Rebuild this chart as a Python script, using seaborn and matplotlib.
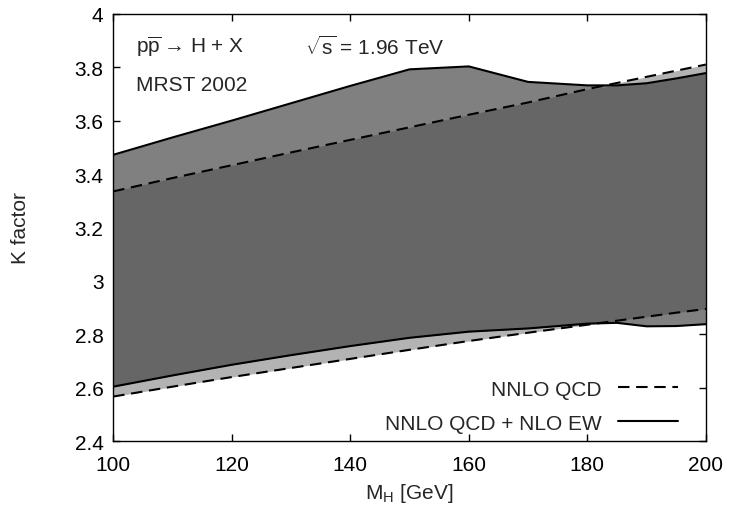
import numpy as np
import pandas as pd
import matplotlib
matplotlib.use("Agg")
import matplotlib.pyplot as plt
import seaborn as sns

# ---- data ----
mh = [100, 110, 120, 130, 140, 150, 160, 170, 180, 185, 190, 195, 200]
qcd_upper = [3.335, 3.385, 3.433, 3.481, 3.528, 3.575, 3.622, 3.668, 3.718, 3.741, 3.764, 3.787, 3.810]
qcd_lower = [2.567, 2.604, 2.640, 2.674, 2.708, 2.742, 2.775, 2.806, 2.836, 2.851, 2.866, 2.881, 2.895]
ew_upper = [3.472, 3.537, 3.600, 3.665, 3.730, 3.792, 3.803, 3.745, 3.732, 3.732, 3.740, 3.758, 3.778]
ew_lower = [2.604, 2.646, 2.686, 2.722, 2.756, 2.787, 2.810, 2.822, 2.840, 2.843, 2.830, 2.831, 2.838]

x_ticks = [100, 120, 140, 160, 180, 200]
y_ticks = [2.4, 2.6, 2.8, 3.0, 3.2, 3.4, 3.6, 3.8, 4.0]
y_tick_labels = ["2.4", "2.6", "2.8", "3", "3.2", "3.4", "3.6", "3.8", "4"]

label_qcd = "NNLO QCD"
label_ew = "NNLO QCD + NLO EW"

FS = 15

sns.set_theme(style="ticks")
plt.rcParams["font.family"] = ["Liberation Sans", "DejaVu Sans"]
plt.rcParams["mathtext.fontset"] = "custom"
plt.rcParams["mathtext.rm"] = "Liberation Sans"
plt.rcParams["mathtext.it"] = "Liberation Sans:italic"
plt.rcParams["mathtext.bf"] = "Liberation Sans:bold"

df = pd.DataFrame({"mh": mh, "qu": qcd_upper, "ql": qcd_lower,
                   "eu": ew_upper, "el": ew_lower})

fig = plt.figure(figsize=(7.3, 5.1), dpi=100)
ax = fig.add_axes([0.155, 0.133, 0.812, 0.838])

x = np.array(mh, dtype=float)
qu, ql = np.array(qcd_upper), np.array(qcd_lower)
eu, el = np.array(ew_upper), np.array(ew_lower)

# bands: QCD only (light), EW only (medium), overlap (dark)
ax.fill_between(x, ql, qu, color="#b3b3b3", linewidth=0, zorder=1)
ax.fill_between(x, el, eu, color="#808080", linewidth=0, zorder=2)
ov_lo = np.maximum(ql, el)
ov_hi = np.minimum(qu, eu)
ax.fill_between(x, ov_lo, ov_hi, where=ov_hi > ov_lo, interpolate=True,
                color="#666666", linewidth=0, zorder=3)

lw = 1.5
dash = (0, (5.5, 3.2))
sns.lineplot(data=df, x="mh", y="qu", ax=ax, color="black", lw=lw,
             linestyle=dash, label=label_qcd, zorder=4)
sns.lineplot(data=df, x="mh", y="ql", ax=ax, color="black", lw=lw,
             linestyle=dash, zorder=4)
sns.lineplot(data=df, x="mh", y="eu", ax=ax, color="black", lw=lw,
             label=label_ew, zorder=5)
sns.lineplot(data=df, x="mh", y="el", ax=ax, color="black", lw=lw, zorder=5)

ax.set_xlim(100, 200)
ax.set_ylim(2.4, 4.0)
ax.set_xticks(x_ticks)
ax.set_yticks(y_ticks)
ax.set_yticklabels(y_tick_labels)
ax.tick_params(direction="in", top=True, right=True, length=5, width=1,
               labelsize=FS, colors="black")
ax.tick_params(axis="x", pad=10)
ax.tick_params(axis="y", pad=7)
for s in ax.spines.values():
    s.set_color("black")
    s.set_linewidth(1.0)
    s.set_zorder(10)

ax.set_xlabel(r"M$_\mathrm{H}$ [GeV]", fontsize=FS, labelpad=5)
ax.set_ylabel("K factor", fontsize=FS, labelpad=32)

ax.text(0.038, 0.925, "p$\\overline{\\mathrm{p}}$\u2009\u2192 H + X", transform=ax.transAxes,
        fontsize=FS, ha="left", va="center")
ax.text(0.323, 0.925, r"$\sqrt{\mathrm{s}}$ = 1.96 TeV", transform=ax.transAxes,
        fontsize=FS, ha="left", va="center")
ax.text(0.038, 0.835, "MRST 2002", transform=ax.transAxes,
        fontsize=FS, ha="left", va="center")

leg = ax.legend(loc="lower right", bbox_to_anchor=(0.953, 0.02),
                frameon=False, markerfirst=False,
                fontsize=FS, handlelength=2.9, labelspacing=0.72,
                borderaxespad=0.0, borderpad=0.0, handletextpad=0.78)

fig.savefig("out.png", dpi=100)
